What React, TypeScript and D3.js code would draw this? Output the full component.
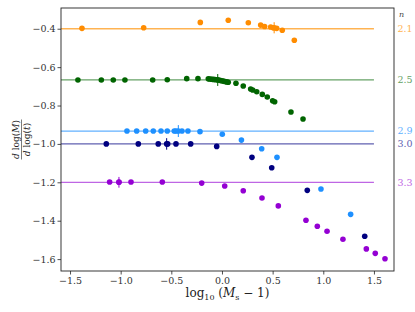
import React, { useEffect, useRef } from "react";
import * as d3 from "d3";

// series: [log10(Ms-1), dlogM/dlogt]
const orangePts: [number, number][] = [
  [-1.382, -0.398], [-0.773, -0.395], [-0.214, -0.367], [0.062, -0.356],
  [0.26, -0.369], [0.382, -0.381], [0.421, -0.388], [0.481, -0.391],
  [0.507, -0.395], [0.54, -0.398], [0.595, -0.408], [0.714, -0.46],
];
const greenPts: [number, number][] = [
  [-1.422, -0.667], [-1.191, -0.667], [-1.073, -0.667], [-0.958, -0.667],
  [-0.684, -0.667], [-0.54, -0.666], [-0.348, -0.66], [-0.237, -0.66],
  [-0.135, -0.661], [-0.118, -0.662], [-0.102, -0.663], [-0.086, -0.664],
  [-0.069, -0.665], [-0.052, -0.666], [-0.037, -0.667], [-0.02, -0.669],
  [-0.003, -0.671], [0.013, -0.673], [0.03, -0.675], [0.046, -0.677],
  [0.062, -0.679], [0.138, -0.684], [0.21, -0.698], [0.283, -0.714],
  [0.303, -0.719], [0.343, -0.728], [0.398, -0.742], [0.447, -0.756],
  [0.5, -0.775], [0.52, -0.78], [0.681, -0.834], [0.8, -0.87],
];
const lightBluePts: [number, number][] = [
  [-0.938, -0.933], [-0.842, -0.933], [-0.753, -0.933], [-0.678, -0.933],
  [-0.602, -0.933], [-0.54, -0.933], [-0.471, -0.933], [-0.454, -0.933],
  [-0.395, -0.933], [-0.336, -0.933], [-0.217, -0.936], [0.003, -0.95],
  [0.192, -0.98], [0.392, -1.025], [0.543, -1.07], [0.977, -1.235],
  [1.27, -1.367],
];
const navyPts: [number, number][] = [
  [-1.142, -1.0], [-0.826, -1.0], [-0.629, -1.0], [-0.536, -1.0],
  [-0.454, -1.0], [-0.309, -1.0], [-0.052, -1.013], [0.296, -1.07],
  [0.491, -1.124], [0.842, -1.242], [1.409, -1.481],
];
const purplePts: [number, number][] = [
  [-1.109, -1.198], [-1.017, -1.198], [-0.898, -1.198], [-0.589, -1.198],
  [-0.2, -1.204], [0.027, -1.219], [0.21, -1.244], [0.395, -1.282],
  [0.556, -1.323], [0.829, -1.398], [0.941, -1.429], [1.037, -1.455],
  [1.194, -1.497], [1.425, -1.547], [1.513, -1.57], [1.609, -1.598],
];

// reference slopes and their n labels
const nLabels = ["2.1", "2.5", "2.9", "3.0", "3.3"];
const slopes = [-0.4, -0.6667, -0.933, -1.0, -1.2];
// one point per series with an error bar: [x, y, yerr]
const errPts: [number, number, number][] = [
  [0.515, -0.395, 0.029],
  [-0.042, -0.667, 0.031],
  [-0.431, -0.933, 0.031],
  [-0.546, -1.0, 0.03],
  [-1.017, -1.2, 0.028],
];

const dotColors = ["#ff8c00", "#006400", "#1e90ff", "#000080", "#9400d3"];
const lineColors = ["#ffb352", "#66a266", "#62b1ff", "#6060b0", "#be66e4"];

const xTicks = [-1.5, -1.0, -0.5, 0.0, 0.5, 1.0, 1.5];
const yTicks = [-1.6, -1.4, -1.2, -1.0, -0.8, -0.6, -0.4];

const W = 415;
const H = 312;
const FONT = "'DejaVu Serif', serif";

export default function App() {
  const svgRef = useRef<SVGSVGElement>(null);

  useEffect(() => {
    const svg = d3.select(svgRef.current);
    svg.selectAll("*").remove();

    const margin = { top: 8, right: 21, bottom: 41, left: 61 };

    const x = d3
      .scaleLinear()
      .domain([-1.589, 1.698])
      .range([margin.left, W - margin.right]);
    const y = d3
      .scaleLinear()
      .domain([-0.292, -1.662])
      .range([margin.top, H - margin.bottom]);

    const series = [orangePts, greenPts, lightBluePts, navyPts, purplePts];

    // horizontal reference lines
    slopes.forEach((s, i) => {
      svg
        .append("line")
        .attr("x1", x(-1.589))
        .attr("x2", x(1.5))
        .attr("y1", y(s))
        .attr("y2", y(s))
        .attr("stroke", lineColors[i])
        .attr("stroke-width", 1.3);
    });

    // dots
    series.forEach((pts, i) => {
      svg
        .append("g")
        .selectAll("circle")
        .data(pts)
        .join("circle")
        .attr("cx", (d) => x(d[0]))
        .attr("cy", (d) => y(d[1]))
        .attr("r", 2.8)
        .attr("fill", dotColors[i]);
    });

    // error bars
    errPts.forEach((d, i) => {
      svg
        .append("line")
        .attr("x1", x(d[0]))
        .attr("x2", x(d[0]))
        .attr("y1", y(d[1] - d[2]))
        .attr("y2", y(d[1] + d[2]))
        .attr("stroke", dotColors[i])
        .attr("stroke-width", 1);
      svg
        .append("circle")
        .attr("cx", x(d[0]))
        .attr("cy", y(d[1]))
        .attr("r", 2.8)
        .attr("fill", dotColors[i]);
    });

    // frame
    svg
      .append("rect")
      .attr("x", margin.left)
      .attr("y", margin.top)
      .attr("width", W - margin.right - margin.left)
      .attr("height", H - margin.bottom - margin.top)
      .attr("fill", "none")
      .attr("stroke", "#222")
      .attr("stroke-width", 0.9);

    const fmt = d3.format(".1f");

    const gx = svg
      .append("g")
      .attr("transform", `translate(0,${H - margin.bottom})`)
      .call(d3.axisBottom(x).tickValues(xTicks).tickFormat((d) => fmt(d as number)).tickSize(3.5).tickPadding(2.5));
    const gy = svg
      .append("g")
      .attr("transform", `translate(${margin.left},0)`)
      .call(d3.axisLeft(y).tickValues(yTicks).tickFormat((d) => fmt(d as number)).tickSize(3.5).tickPadding(2));
    [gx, gy].forEach((g) => {
      g.select(".domain").remove();
      g.selectAll("line").attr("stroke", "#222").attr("stroke-width", 0.8);
      g.selectAll("text")
        .attr("font-family", FONT)
        .attr("font-size", 9.5)
        .attr("fill", "#333");
    });

    // right-hand n labels
    svg
      .append("text")
      .attr("x", 399)
      .attr("y", 17)
      .attr("font-family", FONT)
      .attr("font-style", "italic")
      .attr("font-size", 8)
      .attr("fill", "#444")
      .text("n");
    slopes.forEach((s, i) => {
      svg
        .append("text")
        .attr("x", 397.5)
        .attr("y", y(s))
        .attr("dy", "0.35em")
        .attr("font-family", FONT)
        .attr("font-size", 9.5)
        .attr("fill", lineColors[i])
        .text(nLabels[i]);
    });

    // x label
    const xl = svg
      .append("text")
      .attr("x", (margin.left + W - margin.right) / 2)
      .attr("y", 297)
      .attr("text-anchor", "middle")
      .attr("font-family", FONT)
      .attr("font-size", 12)
      .attr("fill", "#222");
    xl.append("tspan").text("log");
    xl.append("tspan").attr("font-size", 8).attr("dy", 3).text("10");
    xl.append("tspan").attr("dy", -3).text(" (");
    xl.append("tspan").attr("font-style", "italic").text("M");
    xl.append("tspan").attr("font-size", 8).attr("dy", 3).text("s");
    xl.append("tspan").attr("dy", -3).text(" − 1)");

    // y label as a rotated fraction
    const yl = svg
      .append("g")
      .attr("transform", `translate(21,${(margin.top + H - margin.bottom) / 2}) rotate(-90)`);
    const num = yl
      .append("text")
      .attr("y", -2)
      .attr("text-anchor", "middle")
      .attr("font-family", FONT)
      .attr("font-size", 9)
      .attr("fill", "#222");
    num.append("tspan").attr("font-style", "italic").text("d");
    num.append("tspan").text(" log(");
    num.append("tspan").attr("font-style", "italic").text("M");
    num.append("tspan").text(")");
    yl.append("line")
      .attr("x1", -20)
      .attr("x2", 20)
      .attr("y1", 0.5)
      .attr("y2", 0.5)
      .attr("stroke", "#222")
      .attr("stroke-width", 0.6);
    const den = yl
      .append("text")
      .attr("y", 9)
      .attr("text-anchor", "middle")
      .attr("font-family", FONT)
      .attr("font-size", 9)
      .attr("fill", "#222");
    den.append("tspan").attr("font-style", "italic").text("d");
    den.append("tspan").text(" log(");
    den.append("tspan").attr("font-style", "italic").text("t");
    den.append("tspan").text(")");
  }, []);

  return (
    <svg
      ref={svgRef}
      width={W}
      height={H}
      style={{ position: "absolute", left: 0, top: 0, background: "#fff" }}
    />
  );
}
